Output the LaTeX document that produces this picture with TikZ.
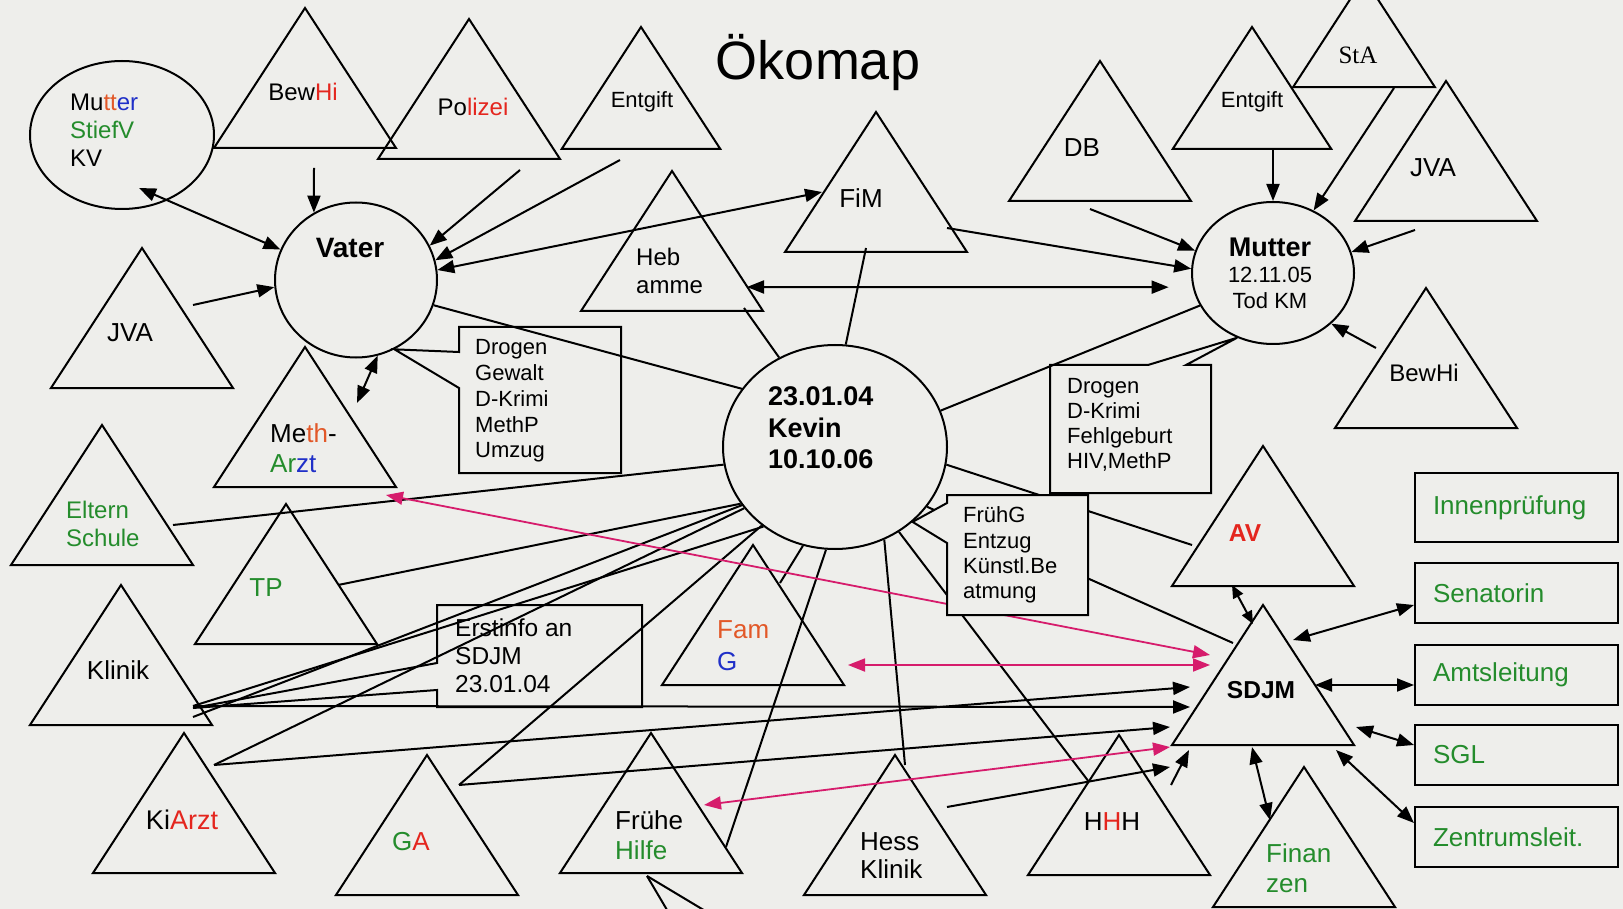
\documentclass[tikz,border=0pt]{standalone}
\usepackage{fontspec}
\setmainfont{Liberation Sans}
\newfontfamily\timesf{Liberation Serif}
\usetikzlibrary{arrows.meta,shapes.geometric,calc}
\definecolor{bgc}{RGB}{238,238,235}
\definecolor{tgreen}{RGB}{36,140,44}
\definecolor{tred}{RGB}{228,38,30}
\definecolor{torange}{RGB}{226,88,40}
\definecolor{tblue}{RGB}{32,48,200}
\definecolor{pinkc}{RGB}{214,28,108}
\newcommand\sz[2]{\fontsize{#1}{#2}\selectfont}
\newcommand\tri[4]{%
  \coordinate (#1) at (#2,#3);
  \draw[trist] (#1) -- ++({91*#4},{140*#4}) -- ++({-182*#4},0) -- cycle;}
\tikzset{
  >={Triangle[length=17pt,width=13pt]},
  ln/.style={line width=2pt},
  trist/.style={line width=2pt, line join=miter},
  arr/.style={ln,->},
  darr/.style={ln,<->},
  sdarr/.style={ln,{Triangle[length=13pt,width=11pt]}-{Triangle[length=13pt,width=11pt]}},
  parr/.style={line width=1.8pt,pinkc,<->},
  lab/.style={inner sep=0pt},
  mlab/.style={inner sep=0pt, anchor=west, align=left},
  circ/.style={draw, ellipse, ln, inner sep=0pt},
  rbox/.style={draw, ln, rectangle, minimum width=203pt, minimum height=60pt, inner sep=0pt,
    text width=167pt, align=left, font=\sz{26}{30}, text=tgreen}
}
\begin{document}
\begin{tikzpicture}[x=1pt,y=-1pt]
\useasboundingbox (0,0) rectangle (1623,909);
\fill[bgc] (0,0) rectangle (1623,909);

% ---------- triangles ----------
\tri{bewhiL}{305}{8}{1}
\tri{polizei}{469}{19}{1}
\tri{entgiftL}{641}{27}{0.87}
\tri{hebamme}{672}{171}{1}
\tri{fim}{876}{112}{1}
\tri{db}{1100}{61}{1}
\tri{entgiftR}{1252}{27}{0.87}
\tri{sta}{1364}{-22}{0.78}
\tri{jvaR}{1446}{81}{1}
\tri{bewhiR}{1426}{288}{1}
\tri{av}{1263}{446}{1}
\tri{sdjm}{1263}{605}{1}
\tri{finanzen}{1304}{767}{1}
\tri{hhh}{1119}{735}{1}
\tri{hess}{895}{755}{1}
\tri{fruehe}{651}{733}{1}
\tri{famg}{753}{545}{1}
\tri{ga}{427}{755}{1}
\tri{kiarzt}{184}{733}{1}
\tri{klinik}{121}{585}{1}
\tri{tp}{286}{504}{1}
\tri{eltern}{102}{425}{1}
\tri{meth}{305}{347}{1}
\tri{jvaL}{142}{248}{1}

% ---------- circles ----------
\node[circ, minimum width=184pt, minimum height=148pt] (ell) at (122,135) {};
\node[circ, minimum width=162pt, minimum height=155pt] (vater) at (356,280) {};
\node[circ, minimum width=162pt, minimum height=142pt] (mutter) at (1273,273) {};
\node[circ, minimum width=224pt, minimum height=204pt] (kevin) at (835,447) {};

% ---------- right boxes ----------
\node[rbox, minimum height=69pt] (innen) at (1516.5,507.5) {Innenprüfung};
\node[rbox] (senat) at (1516.5,593) {Senatorin};
\node[rbox] (amts) at (1516.5,675) {Amtsleitung};
\node[rbox] (sgl) at (1516.5,755) {SGL};
\node[rbox] (zentrum) at (1516.5,837) {Zentrumsleit.};

% ---------- connector end points ----------
\coordinate (bewhiL-s) at (314,168);
\coordinate (jvaL-s) at (193,305);
\coordinate (polizei-s) at (520,170);
\coordinate (entgiftL-s) at (620,160);
\coordinate (fim-w) at (822,192);
\coordinate (meth-ne) at (357,403);
\coordinate (entgiftR-s) at (1273,150);
\coordinate (sta-s) at (1394,88);
\coordinate (db-s) at (1090,209);
\coordinate (fim-e) at (947,228);
\coordinate (hebamme-e) at (747,287);
\coordinate (jvaR-s) at (1415,230);
\coordinate (bewhiR-w) at (1376,348);
\coordinate (hebamme-b) at (744,308);
\coordinate (fim-b) at (866,248);
\coordinate (av-w) at (1192,545);
\coordinate (sdjm-nw) at (1233,643);
\coordinate (hhh-w) at (1089,782);
\coordinate (hess-ne) at (905,765);
\coordinate (fruehe-e) at (726,847);
\coordinate (famg-e) at (780,583);
\coordinate (ga-s) at (459,785);
\coordinate (kiarzt-s) at (214,765);
\coordinate (klinik-s1) at (193,706);
\coordinate (klinik-s2) at (193,717);
\coordinate (klinik-t) at (193,708);
\coordinate (tp-s) at (338,585);
\coordinate (eltern-s) at (173,525);
\coordinate (meth-p) at (386,495);
\coordinate (famg-p) at (848,665);
\coordinate (fruehe-p) at (704,805);
\coordinate (hess-e) at (947,807);
\coordinate (hhh-e) at (1171,785);
\coordinate (av-b) at (1232,585);
\coordinate (sdjm-p1) at (1210,655);
\coordinate (sdjm-p2) at (1210,665);
\coordinate (sdjm-p3) at (1170,747);
\coordinate (sdjm-a1) at (1190,687);
\coordinate (sdjm-a2) at (1190,707);
\coordinate (sdjm-a3) at (1170,727);
\coordinate (sdjm-a4) at (1170,767);
\coordinate (sdjm-a5) at (1189,750);
\coordinate (sdjm-n) at (1253,624);
\coordinate (sdjm-e1) at (1293,640);
\coordinate (sdjm-e2) at (1315,685);
\coordinate (sdjm-e3) at (1356,727);
\coordinate (sdjm-e4) at (1336,750);
\coordinate (sdjm-s) at (1252,747);
\coordinate (finanzen-n) at (1270,820);
\coordinate (fruehe-b) at (647,876);
\coordinate (off1) at (670,915);
\coordinate (off2) at (712,915);

% ---------- Vater ----------
\draw[arr] (bewhiL-s) -- (vater.122);
\draw[darr] ($(ell)+(17,53)$) -- (vater.158);
\draw[arr] (jvaL-s) -- (vater.185);
\draw[arr] (polizei-s) -- (vater.25);
\draw[arr] (entgiftL-s) -- (vater.14);
\draw[darr] (vater.7) -- (fim-w);
\draw[ln] (vater.342) -- (kevin.148);
\draw[darr] (vater.286) -- (meth-ne);

% ---------- Mutter ----------
\draw[arr] (entgiftR-s) -- (mutter.90);
\draw[arr] (sta-s) -- (mutter.57);
\draw[arr] (db-s) -- (mutter.164);
\draw[arr] (fim-e) -- (mutter.177);
\draw[darr, shorten >=24pt] (hebamme-e) -- (mutter.190);
\draw[arr] (jvaR-s) -- (mutter.15);
\draw[arr] (bewhiR-w) -- (mutter.319);
\draw[ln] (mutter.204) -- (kevin.19);

% ---------- Kevin ----------
\draw[ln] (hebamme-b) -- (kevin.122);
\draw[ln] (fim-b) -- (kevin.84);
\draw[ln] (kevin.351) -- (av-w);
\draw[ln] (kevin.327) -- (sdjm-nw);
\draw[ln] (kevin.307) -- (hhh-w);
\draw[ln] (kevin.298) -- (hess-ne);
\draw[ln] (kevin.265) -- (fruehe-e);
\draw[ln] (kevin.252) -- (famg-e);
\draw[ln] (kevin.227) -- (ga-s);
\draw[ln] (kevin.214) -- (kiarzt-s);
\draw[ln] (kevin.212) -- (klinik-s2);
\draw[ln] (kevin.228) -- (klinik-s1);
\draw[ln] (kevin.211) -- (tp-s);
\draw[ln] (kevin.189) -- (eltern-s);

% ---------- SDJM ----------
\draw[parr] (meth-p) -- (sdjm-p1);
\draw[parr] (famg-p) -- (sdjm-p2);
\draw[parr] (fruehe-p) -- (sdjm-p3);
\draw[arr] (kiarzt-s) -- (sdjm-a1);
\draw[arr] (klinik-s1) -- (sdjm-a2);
\draw[arr] (ga-s) -- (sdjm-a3);
\draw[arr] (hess-e) -- (sdjm-a4);
\draw[arr] (hhh-e) -- (sdjm-a5);
\draw[sdarr] (av-b) -- (sdjm-n);
\draw[darr] (sdjm-e1) -- ([yshift=-12pt]senat.west);
\draw[darr] (sdjm-e2) -- ([yshift=-10pt]amts.west);
\draw[darr] (sdjm-e3) -- ([yshift=10pt]sgl.west);
\draw[darr] (sdjm-e4) -- ([yshift=14pt]zentrum.west);
\draw[darr] (sdjm-s) -- (finanzen-n);
\draw[ln] (fruehe-b) -- (off1);
\draw[ln] (fruehe-b) -- (off2);

% ---------- callouts ----------
\draw[ln, line join=miter] (459,327) -- (621,327) -- (621,473) -- (459,473) -- (459,388) -- (vater.299) -- (459,352) -- cycle;
\draw[ln, line join=miter] (1050,365) -- (1148,365) -- (mutter.241) -- (1186,365) -- (1211,365) -- (1211,493) -- (1050,493) -- cycle;
\draw[ln, line join=miter, fill=bgc] (947,495) -- (1088,495) -- (1088,615) -- (947,615) -- (947,543) -- (kevin.316) -- (947,503) -- cycle;
\draw[ln, line join=miter] (437,605) -- (642,605) -- (642,707) -- (437,707) -- (437,690) -- (klinik-t) -- (437,663) -- cycle;

% ---------- texts ----------
\node[lab, font=\sz{54}{54}] (title) at (818,63) {Ökomap};
\node[mlab, font=\sz{24}{28}] (ell-t) at (70,130) {Mu{\color{torange}tt}{\color{tblue}er}\\{\color{tgreen}StiefV}\\KV};
\node[lab, font=\bfseries\sz{28}{28}] (vater-t) at (350,248) {Vater};
\node[lab, align=center, font=\sz{22}{26}] (mutter-t) at (1270,273) {{\bfseries\sz{27}{27}Mutter}\\12.11.05\\Tod KM};
\node[mlab, font=\bfseries\sz{27}{31.5}] (kevin-t) at (768,428) {23.01.04\\Kevin\\10.10.06};
\node[mlab, font=\sz{22}{25.75}] (vcall-t) at (475,401) {Drogen\\Gewalt\\D-Krimi\\MethP\\Umzug};
\node[mlab, font=\sz{22}{25}] (mcall-t) at (1067,425) {Drogen\\D-Krimi\\Fehlgeburt\\HIV,MethP};
\node[mlab, font=\sz{22}{25.3}] (fcall-t) at (963,555) {FrühG\\Entzug\\Künstl.Be\\atmung};
\node[mlab, font=\sz{24.5}{28}] (ecall-t) at (455,656) {Erstinfo an\\SDJM\\23.01.04};

\node[lab, font=\sz{24}{24}] (bewhiL-t) at (303,92) {Bew{\color{tred}Hi}};
\node[lab, font=\sz{24}{24}] (polizei-t) at (473,107) {Po{\color{tred}lizei}};
\node[lab, font=\sz{22}{22}] (entgiftL-t) at (642,102) {Entgift};
\node[mlab, font=\sz{24}{28}] (hebamme-t) at (636,271) {Heb\\amme};
\node[lab, font=\sz{26}{26}] (fim-t) at (861,198) {FiM};
\node[lab, font=\sz{26}{26}] (db-t) at (1082,148) {DB};
\node[lab, font=\sz{22}{22}] (entgiftR-t) at (1252,102) {Entgift};
\node[lab, font=\timesf\sz{25}{25}] (sta-t) at (1358,55) {StA};
\node[lab, font=\sz{26}{26}] (jvaR-t) at (1433,168) {JVA};
\node[lab, font=\sz{24}{24}] (bewhiR-t) at (1424,373) {BewHi};
\node[lab, font=\bfseries\sz{24.5}{24.5}, text=tred] (av-t) at (1245,533) {AV};
\node[lab, font=\bfseries\sz{24.5}{24.5}] (sdjm-t) at (1261,690) {SDJM};
\node[mlab, font=\sz{26}{30}, text=tgreen] (finanzen-t) at (1266,868) {Finan\\zen};
\node[lab, font=\sz{26}{26}] (hhh-t) at (1112,822) {H{\color{tred}H}H};
\node[mlab, font=\sz{26}{28}] (hess-t) at (860,856) {Hess\\Klinik};
\node[mlab, font=\sz{26}{30}] (fruehe-t) at (615,835) {Frühe\\{\color{tgreen}Hilfe}};
\node[mlab, font=\sz{26}{32}] (famg-t) at (717,646) {{\color{torange}Fam}\\{\color{tblue}G}};
\node[lab, font=\sz{26}{26}] (ga-t) at (411,842) {{\color{tgreen}G}{\color{tred}A}};
\node[lab, font=\sz{27}{27}] (kiarzt-t) at (182,820) {Ki{\color{tred}Arzt}};
\node[lab, font=\sz{26}{26}] (klinik-t2) at (118,670) {Klinik};
\node[lab, font=\sz{26}{26}, text=tgreen] (tp-t) at (266,588) {TP};
\node[mlab, font=\sz{24}{28}, text=tgreen] (eltern-t) at (66,524) {Eltern\\Schule};
\node[mlab, font=\sz{26}{30}] (meth-t) at (270,448) {Me{\color{torange}th}-\\{\color{tgreen}Ar}{\color{tblue}zt}};
\node[lab, font=\sz{26}{26}] (jvaL-t) at (130,333) {JVA};
\end{tikzpicture}
\end{document}
